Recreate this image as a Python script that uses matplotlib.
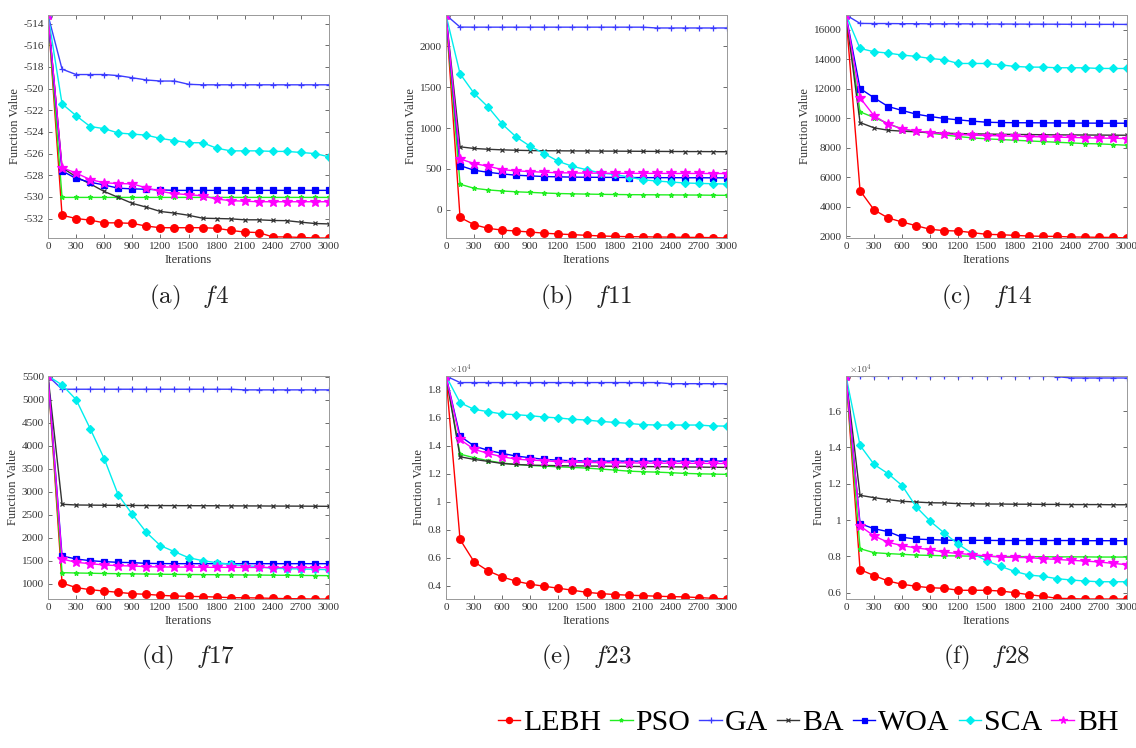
import numpy as np
import matplotlib
matplotlib.use("Agg")
import matplotlib.pyplot as plt
from matplotlib.ticker import FormatStrFormatter

plt.rcParams['font.family'] = ['Liberation Serif', 'DejaVu Serif']
plt.rcParams['mathtext.fontset'] = 'cm'

# iteration checkpoints (every 150 iterations)
ITERS = [0, 150, 300, 450, 600, 750, 900, 1050, 1200, 1350, 1500,
         1650, 1800, 1950, 2100, 2250, 2400, 2550, 2700, 2850, 3000]

ALGOS = ['LEBH', 'PSO', 'GA', 'BA', 'WOA', 'SCA', 'BH']

# f4
F4_LEBH = [-513.2, -531.7, -532.0, -532.15, -532.4, -532.4, -532.45, -532.7, -532.85, -532.85, -532.85,
           -532.85, -532.9, -533.1, -533.25, -533.3, -533.7, -533.7, -533.75, -533.8, -533.8]
F4_PSO = [-513.2, -530.05, -530.05, -530.05, -530.05, -530.05, -530.05, -530.05, -530.05, -530.05, -530.05,
          -530.05, -530.05, -530.05, -530.05, -530.05, -530.05, -530.05, -530.05, -530.05, -530.05]
F4_GA = [-513.2, -518.2, -518.7, -518.7, -518.7, -518.8, -519.0, -519.2, -519.3, -519.3, -519.6,
         -519.65, -519.65, -519.65, -519.65, -519.65, -519.65, -519.65, -519.65, -519.65, -519.65]
F4_BA = [-513.2, -527.3, -528.15, -528.8, -529.5, -530.05, -530.6, -530.95, -531.35, -531.5, -531.7,
         -531.97, -532.0, -532.03, -532.12, -532.12, -532.18, -532.2, -532.34, -532.46, -532.5]
F4_WOA = [-513.2, -527.6, -528.3, -528.65, -528.9, -529.2, -529.26, -529.3, -529.35, -529.4, -529.4,
          -529.4, -529.4, -529.4, -529.4, -529.4, -529.4, -529.4, -529.4, -529.4, -529.4]
F4_SCA = [-513.2, -521.4, -522.5, -523.5, -523.7, -524.1, -524.2, -524.3, -524.6, -524.8, -525.0,
          -525.0, -525.5, -525.75, -525.75, -525.75, -525.8, -525.8, -525.9, -526.0, -526.3]
F4_BH = [-513.2, -527.3, -527.8, -528.4, -528.7, -528.77, -528.8, -529.17, -529.5, -529.7, -529.8,
         -529.9, -530.2, -530.35, -530.4, -530.45, -530.45, -530.45, -530.45, -530.45, -530.45]

# f11
F11_LEBH = [2385, -95, -184, -229, -250, -262, -274, -288, -298, -306, -314,
            -322, -327, -331, -332, -335, -336, -339, -340, -343, -347]
F11_PSO = [2385, 312, 262, 242, 229, 219, 212, 204, 198, 194, 191,
           188, 186, 184, 183, 182, 181, 180, 179, 177, 176]
F11_GA = [2385, 2237, 2236, 2236, 2236, 2236, 2236, 2236, 2236, 2236, 2236,
          2236, 2236, 2236, 2236, 2226, 2226, 2226, 2226, 2226, 2226]
F11_BA = [2385, 770, 750, 740, 733, 728, 724, 722, 721, 720, 719,
          718, 717, 716, 715, 714, 713, 712, 712, 711, 710]
F11_WOA = [2385, 540, 483, 458, 438, 422, 414, 406, 402, 399, 397,
           396, 395, 394, 393, 392, 392, 391, 391, 390, 390]
F11_SCA = [2385, 1665, 1425, 1257, 1049, 890, 776, 686, 592, 531, 490,
           449, 433, 400, 367, 351, 339, 327, 322, 318, 314]
F11_BH = [2385, 622, 565, 532, 491, 475, 467, 458, 452, 450, 448,
          447, 446, 445, 445, 445, 444, 444, 444, 443, 443]

# f14
F14_LEBH = [17000, 5080, 3770, 3225, 2950, 2700, 2455, 2365, 2340, 2230, 2115,
            2090, 2045, 2000, 1980, 1975, 1935, 1930, 1910, 1905, 1866]
F14_PSO = [17000, 10430, 10040, 9635, 9250, 9090, 8980, 8865, 8750, 8660, 8595,
           8550, 8500, 8455, 8410, 8365, 8320, 8275, 8255, 8210, 8160]
F14_GA = [17000, 16430, 16420, 16420, 16410, 16410, 16400, 16400, 16400, 16395, 16390,
          16390, 16385, 16380, 16380, 16375, 16370, 16370, 16365, 16365, 16360]
F14_BA = [17000, 9700, 9340, 9180, 9115, 9070, 9025, 8980, 8955, 8935, 8920,
          8905, 8895, 8885, 8875, 8865, 8860, 8855, 8850, 8845, 8840]
F14_WOA = [17000, 12010, 11380, 10790, 10520, 10270, 10110, 9975, 9885, 9795, 9725,
           9700, 9690, 9685, 9680, 9675, 9670, 9665, 9660, 9660, 9655]
F14_SCA = [17000, 14730, 14505, 14415, 14280, 14190, 14050, 13960, 13710, 13710, 13710,
           13620, 13510, 13465, 13460, 13420, 13420, 13415, 13375, 13370, 13370]
F14_BH = [17000, 11380, 10155, 9590, 9275, 9115, 9025, 8935, 8890, 8845, 8820,
          8800, 8775, 8750, 8730, 8710, 8690, 8670, 8650, 8635, 8615]

# f17
F17_LEBH = [5520, 1015, 915, 870, 840, 812, 783, 769, 747, 732, 725,
            718, 710, 696, 694, 689, 681, 674, 672, 667, 667]
F17_PSO = [5520, 1240, 1233, 1228, 1222, 1218, 1214, 1210, 1206, 1203, 1200,
           1198, 1195, 1193, 1190, 1188, 1185, 1183, 1180, 1178, 1175]
F17_GA = [5520, 5232, 5232, 5232, 5232, 5232, 5232, 5232, 5232, 5232, 5232,
          5232, 5232, 5232, 5218, 5218, 5218, 5218, 5218, 5218, 5218]
F17_BA = [5520, 2728, 2713, 2710, 2707, 2705, 2703, 2701, 2700, 2699, 2698,
          2697, 2696, 2694, 2693, 2692, 2690, 2689, 2688, 2686, 2684]
F17_WOA = [5520, 1603, 1538, 1501, 1480, 1465, 1458, 1443, 1438, 1436, 1436,
           1436, 1436, 1436, 1436, 1436, 1436, 1436, 1436, 1436, 1436]
F17_SCA = [5520, 5326, 5007, 4375, 3722, 2931, 2510, 2118, 1828, 1697, 1567,
           1501, 1458, 1422, 1393, 1371, 1334, 1327, 1320, 1313, 1305]
F17_BH = [5520, 1538, 1465, 1436, 1407, 1393, 1385, 1371, 1364, 1362, 1360,
          1358, 1356, 1355, 1354, 1353, 1352, 1351, 1350, 1349, 1349]

# f23 (x10^4)
F23_LEBH = [1.90, 0.730, 0.570, 0.505, 0.462, 0.431, 0.410, 0.395, 0.381, 0.367, 0.352,
            0.343, 0.336, 0.331, 0.328, 0.324, 0.321, 0.319, 0.314, 0.309, 0.304]
F23_PSO = [1.90, 1.341, 1.315, 1.294, 1.277, 1.267, 1.260, 1.255, 1.250, 1.246, 1.241,
           1.234, 1.227, 1.219, 1.215, 1.212, 1.208, 1.203, 1.200, 1.198, 1.196]
F23_GA = [1.90, 1.853, 1.853, 1.853, 1.853, 1.853, 1.853, 1.853, 1.853, 1.853, 1.853,
          1.853, 1.853, 1.853, 1.853, 1.853, 1.845, 1.845, 1.845, 1.845, 1.845]
F23_BA = [1.90, 1.322, 1.303, 1.289, 1.274, 1.267, 1.262, 1.260, 1.258, 1.257, 1.256,
          1.255, 1.254, 1.253, 1.252, 1.251, 1.250, 1.249, 1.248, 1.247, 1.246]
F23_WOA = [1.90, 1.470, 1.399, 1.368, 1.346, 1.327, 1.315, 1.303, 1.298, 1.293, 1.292,
           1.291, 1.291, 1.291, 1.291, 1.291, 1.291, 1.291, 1.291, 1.291, 1.291]
F23_SCA = [1.90, 1.709, 1.661, 1.645, 1.628, 1.623, 1.616, 1.606, 1.600, 1.590, 1.585,
           1.575, 1.568, 1.561, 1.552, 1.549, 1.549, 1.549, 1.549, 1.542, 1.542]
F23_BH = [1.90, 1.446, 1.375, 1.346, 1.322, 1.305, 1.298, 1.294, 1.286, 1.283, 1.281,
          1.280, 1.279, 1.278, 1.277, 1.276, 1.276, 1.275, 1.275, 1.274, 1.274]

# f28 (x10^4)
F28_LEBH = [1.793, 0.727, 0.694, 0.664, 0.646, 0.635, 0.627, 0.624, 0.613, 0.613, 0.613,
            0.609, 0.600, 0.589, 0.580, 0.569, 0.567, 0.565, 0.565, 0.565, 0.565]
F28_PSO = [1.793, 0.842, 0.820, 0.815, 0.811, 0.807, 0.805, 0.803, 0.802, 0.801, 0.800,
           0.799, 0.799, 0.798, 0.798, 0.797, 0.797, 0.797, 0.796, 0.796, 0.796]
F28_GA = [1.793, 1.792, 1.792, 1.792, 1.792, 1.792, 1.792, 1.792, 1.792, 1.792, 1.792,
          1.792, 1.792, 1.792, 1.792, 1.790, 1.782, 1.782, 1.782, 1.782, 1.782]
F28_BA = [1.793, 1.136, 1.123, 1.112, 1.103, 1.099, 1.095, 1.094, 1.090, 1.089, 1.088,
          1.088, 1.087, 1.087, 1.086, 1.086, 1.085, 1.085, 1.085, 1.084, 1.084]
F28_WOA = [1.793, 0.980, 0.952, 0.936, 0.905, 0.895, 0.892, 0.889, 0.888, 0.888, 0.888,
           0.887, 0.887, 0.887, 0.887, 0.887, 0.887, 0.886, 0.886, 0.886, 0.886]
F28_SCA = [1.793, 1.411, 1.306, 1.255, 1.189, 1.072, 0.993, 0.928, 0.866, 0.815, 0.776,
           0.745, 0.717, 0.697, 0.690, 0.677, 0.670, 0.664, 0.660, 0.660, 0.660]
F28_BH = [1.793, 0.967, 0.912, 0.877, 0.859, 0.846, 0.837, 0.822, 0.816, 0.809, 0.802,
          0.796, 0.794, 0.793, 0.787, 0.783, 0.778, 0.774, 0.769, 0.761, 0.754]

CAPTIONS = [r'$\mathrm{(a)}\ \ \ f4$', r'$\mathrm{(b)}\ \ \ f11$', r'$\mathrm{(c)}\ \ \ f14$',
            r'$\mathrm{(d)}\ \ \ f17$', r'$\mathrm{(e)}\ \ \ f23$', r'$\mathrm{(f)}\ \ \ f28$']

YTICKS = [
    [-532, -530, -528, -526, -524, -522, -520, -518, -516, -514],
    [0, 500, 1000, 1500, 2000],
    [2000, 4000, 6000, 8000, 10000, 12000, 14000, 16000],
    [1000, 1500, 2000, 2500, 3000, 3500, 4000, 4500, 5000, 5500],
    [0.4, 0.6, 0.8, 1.0, 1.2, 1.4, 1.6, 1.8],
    [0.6, 0.8, 1.0, 1.2, 1.4, 1.6],
]
XTICKS = [0, 300, 600, 900, 1200, 1500, 1800, 2100, 2400, 2700, 3000]

panels = [
    [F4_LEBH, F4_PSO, F4_GA, F4_BA, F4_WOA, F4_SCA, F4_BH],
    [F11_LEBH, F11_PSO, F11_GA, F11_BA, F11_WOA, F11_SCA, F11_BH],
    [F14_LEBH, F14_PSO, F14_GA, F14_BA, F14_WOA, F14_SCA, F14_BH],
    [F17_LEBH, F17_PSO, F17_GA, F17_BA, F17_WOA, F17_SCA, F17_BH],
    [F23_LEBH, F23_PSO, F23_GA, F23_BA, F23_WOA, F23_SCA, F23_BH],
    [F28_LEBH, F28_PSO, F28_GA, F28_BA, F28_WOA, F28_SCA, F28_BH],
]
scaled = [False, False, False, False, True, True]

# line styles per algorithm (color, marker, markersize)
styles = {
    'LEBH': ('#ff0000', 'o', 5.5),
    'PSO': ('#22ee22', '*', 3.5),
    'GA': ('#3c3cff', '+', 5),
    'BA': ('#333333', 'x', 3),
    'WOA': ('#0000ff', 's', 4.5),
    'SCA': ('#00eeee', 'D', 4.5),
    'BH': ('#ff00ff', '*', 7),
}

W, H = 1136, 748
fig = plt.figure(figsize=(W / 100, H / 100), dpi=100)

# axes boxes in pixels: left, top, width, height
lefts = [48, 446, 846]
tops = [15, 376]
aw, ah = 281, 223

handles = []
for i, series in enumerate(panels):
    r, c = divmod(i, 3)
    l, t = lefts[c], tops[r]
    ax = fig.add_axes([l / W, 1 - (t + ah) / H, aw / W, ah / H])
    for name, ys in zip(ALGOS, series):
        col, mk, ms = styles[name]
        ln, = ax.plot(ITERS, ys, color=col, marker=mk, markersize=ms, lw=1.0,
                      markerfacecolor=col, markeredgecolor=col, markeredgewidth=0.9,
                      label=name)
        if i == 0:
            handles.append(ln)
    allv = np.concatenate([np.asarray(s, float) for s in series])
    ax.set_xlim(0, 3000)
    ax.set_ylim(allv.min(), allv.max())
    ax.set_xticks(XTICKS)
    ax.set_yticks(YTICKS[i])
    ax.yaxis.set_major_formatter(FormatStrFormatter('%g'))
    ax.tick_params(direction='in', top=True, right=True, length=3, width=0.6,
                   labelsize=8, colors='#555555', labelcolor='#333333', pad=3)
    for sp in ax.spines.values():
        sp.set_color('#999999')
        sp.set_linewidth(0.7)
    ax.set_xlabel('Iterations', fontsize=9, color='#333333', labelpad=2)
    ax.set_ylabel('Function Value', fontsize=9, color='#333333', labelpad=2)
    if scaled[i]:
        ax.text(0.01, 1.0, r'$\times 10^4$', transform=ax.transAxes, fontsize=7,
                color='#444444', va='bottom', ha='left',
                family=['DejaVu Serif'])
    cy = 297 if r == 0 else 657
    fig.text((l + aw / 2) / W, 1 - cy / H, CAPTIONS[i], ha='center', va='center',
             fontsize=18, color='#222222')

fig.legend(handles=handles, labels=ALGOS, loc='center', ncol=7,
           bbox_to_anchor=(808 / W, 1 - 723 / H), frameon=False, fontsize=21.5,
           handlelength=0.75, handletextpad=0.1, columnspacing=0.3,
           borderpad=0.1, markerscale=0.8)

fig.savefig('out.png', dpi=100)
